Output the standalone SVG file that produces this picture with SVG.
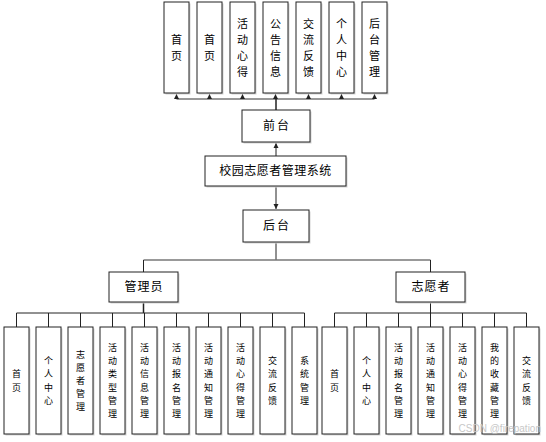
<svg xmlns="http://www.w3.org/2000/svg" width="546" height="442" viewBox="0 0 546 442">
<style>
.b{fill:#fff;stroke:#222;stroke-width:1}
.s{fill:#d4d4d4}
.t{font-family:"Noto Sans CJK SC","Noto Sans",sans-serif;font-size:12px;fill:#000;text-anchor:middle}
.u{font-family:"Noto Sans CJK SC","Noto Sans",sans-serif;font-size:11px;fill:#000;text-anchor:middle}
.v{font-family:"Noto Sans CJK SC","Noto Sans",sans-serif;font-size:9px;fill:#000;text-anchor:middle}
.l{stroke:#222;stroke-width:1;fill:none}
.g{stroke:#777;stroke-width:1.5;fill:none}
</style>
<defs>
<marker id="a" markerWidth="6" markerHeight="6" refX="5" refY="3" orient="auto" markerUnits="userSpaceOnUse"><path d="M0,0.5 L5,3 L0,5.5 Z" fill="#222"/></marker>
</defs>
<g id="connectors">
<path class="g" d="M176.5,99 H374.5"/>
<path class="l" d="M176.5,99 V94" marker-end="url(#a)"/>
<path class="l" d="M209.5,99 V94" marker-end="url(#a)"/>
<path class="l" d="M242.5,99 V94" marker-end="url(#a)"/>
<path class="l" d="M275.5,99 V94" marker-end="url(#a)"/>
<path class="l" d="M308.5,99 V94" marker-end="url(#a)"/>
<path class="l" d="M341.5,99 V94" marker-end="url(#a)"/>
<path class="l" d="M374.5,99 V94" marker-end="url(#a)"/>
<path class="l" d="M276,110 V99" style="stroke-width:1.5"/>
<path class="l" d="M276,156 V143" marker-end="url(#a)"/>
<path class="l" d="M276,186 V209" marker-end="url(#a)"/>
<path class="l" d="M276,242 V260"/>
<path class="g" d="M143.5,260 H430.5"/>
<path class="l" d="M143.5,260 V272"/>
<path class="l" d="M430.5,260 V272"/>
<path class="l" d="M143.5,302 V313" style="stroke-width:1.5"/>
<path class="l" d="M16.5,313 H304.5 M16.5,313 V327 M48.5,313 V327 M80.5,313 V327 M112.5,313 V327 M144.5,313 V327 M176.5,313 V327 M208.5,313 V327 M240.5,313 V327 M272.5,313 V327 M304.5,313 V327"/>
<path class="l" d="M430.5,302 V313"/>
<path class="l" d="M334.5,313 H526.5 M334.5,313 V327 M366.5,313 V327 M398.5,313 V327 M430.5,313 V327 M462.5,313 V327 M494.5,313 V327 M526.5,313 V327"/>
</g>
<g id="top-shouye1"><rect class="s" x="165.5" y="3.5" width="25" height="91"/><rect class="b" x="164" y="2" width="25" height="91"/><text class="u"><tspan x="176.5" y="43.5">首</tspan><tspan x="176.5" y="59.5">页</tspan></text></g>
<g id="top-shouye2"><rect class="s" x="198.5" y="3.5" width="25" height="91"/><rect class="b" x="197" y="2" width="25" height="91"/><text class="u"><tspan x="209.5" y="43.5">首</tspan><tspan x="209.5" y="59.5">页</tspan></text></g>
<g id="top-xinde"><rect class="s" x="231.5" y="3.5" width="25" height="91"/><rect class="b" x="230" y="2" width="25" height="91"/><text class="u"><tspan x="242.5" y="27.5">活</tspan><tspan x="242.5" y="43.5">动</tspan><tspan x="242.5" y="59.5">心</tspan><tspan x="242.5" y="75.5">得</tspan></text></g>
<g id="top-gonggao"><rect class="s" x="264.5" y="3.5" width="25" height="91"/><rect class="b" x="263" y="2" width="25" height="91"/><text class="u"><tspan x="275.5" y="27.5">公</tspan><tspan x="275.5" y="43.5">告</tspan><tspan x="275.5" y="59.5">信</tspan><tspan x="275.5" y="75.5">息</tspan></text></g>
<g id="top-jiaoliu"><rect class="s" x="297.5" y="3.5" width="25" height="91"/><rect class="b" x="296" y="2" width="25" height="91"/><text class="u"><tspan x="308.5" y="27.5">交</tspan><tspan x="308.5" y="43.5">流</tspan><tspan x="308.5" y="59.5">反</tspan><tspan x="308.5" y="75.5">馈</tspan></text></g>
<g id="top-geren"><rect class="s" x="330.5" y="3.5" width="25" height="91"/><rect class="b" x="329" y="2" width="25" height="91"/><text class="u"><tspan x="341.5" y="27.5">个</tspan><tspan x="341.5" y="43.5">人</tspan><tspan x="341.5" y="59.5">中</tspan><tspan x="341.5" y="75.5">心</tspan></text></g>
<g id="top-houtai"><rect class="s" x="363.5" y="3.5" width="25" height="91"/><rect class="b" x="362" y="2" width="25" height="91"/><text class="u"><tspan x="374.5" y="27.5">后</tspan><tspan x="374.5" y="43.5">台</tspan><tspan x="374.5" y="59.5">管</tspan><tspan x="374.5" y="75.5">理</tspan></text></g>
<g id="qiantai"><rect class="s" x="243.5" y="111.5" width="68" height="32"/><rect class="b" x="242" y="110" width="68" height="32"/><text class="t" x="277" y="130.2" letter-spacing="2">前台</text></g>
<g id="system"><rect class="s" x="206.5" y="157.5" width="141" height="30"/><rect class="b" x="205" y="156" width="141" height="30"/><text class="t" x="275.5" y="175.2" letter-spacing="0.5">校园志愿者管理系统</text></g>
<g id="houtai"><rect class="s" x="244.5" y="211.5" width="66" height="32"/><rect class="b" x="243" y="210" width="66" height="32"/><text class="t" x="277" y="230.2" letter-spacing="2">后台</text></g>
<g id="admin"><rect class="s" x="110.5" y="273.5" width="69" height="30"/><rect class="b" x="109" y="272" width="69" height="30"/><text class="t" x="144" y="291.2" letter-spacing="1">管理员</text></g>
<g id="volunteer"><rect class="s" x="397.5" y="273.5" width="69" height="30"/><rect class="b" x="396" y="272" width="69" height="30"/><text class="t" x="431" y="291.2" letter-spacing="1">志愿者</text></g>
<g id="a-shouye"><rect class="s" x="5.5" y="328.5" width="25" height="107"/><rect class="b" x="4" y="327" width="25" height="107"/><text class="v"><tspan x="16.5" y="377.3">首</tspan><tspan x="16.5" y="390.5">页</tspan></text></g>
<g id="a-geren"><rect class="s" x="37.5" y="328.5" width="25" height="107"/><rect class="b" x="36" y="327" width="25" height="107"/><text class="v"><tspan x="48.5" y="364.1">个</tspan><tspan x="48.5" y="377.3">人</tspan><tspan x="48.5" y="390.5">中</tspan><tspan x="48.5" y="403.7">心</tspan></text></g>
<g id="a-zhiyuanzhe"><rect class="s" x="69.5" y="328.5" width="25" height="107"/><rect class="b" x="68" y="327" width="25" height="107"/><text class="v"><tspan x="80.5" y="357.5">志</tspan><tspan x="80.5" y="370.7">愿</tspan><tspan x="80.5" y="383.9">者</tspan><tspan x="80.5" y="397.1">管</tspan><tspan x="80.5" y="410.3">理</tspan></text></g>
<g id="a-leixing"><rect class="s" x="101.5" y="328.5" width="25" height="107"/><rect class="b" x="100" y="327" width="25" height="107"/><text class="v"><tspan x="112.5" y="350.9">活</tspan><tspan x="112.5" y="364.1">动</tspan><tspan x="112.5" y="377.3">类</tspan><tspan x="112.5" y="390.5">型</tspan><tspan x="112.5" y="403.7">管</tspan><tspan x="112.5" y="416.9">理</tspan></text></g>
<g id="a-xinxi"><rect class="s" x="133.5" y="328.5" width="25" height="107"/><rect class="b" x="132" y="327" width="25" height="107"/><text class="v"><tspan x="144.5" y="350.9">活</tspan><tspan x="144.5" y="364.1">动</tspan><tspan x="144.5" y="377.3">信</tspan><tspan x="144.5" y="390.5">息</tspan><tspan x="144.5" y="403.7">管</tspan><tspan x="144.5" y="416.9">理</tspan></text></g>
<g id="a-baoming"><rect class="s" x="165.5" y="328.5" width="25" height="107"/><rect class="b" x="164" y="327" width="25" height="107"/><text class="v"><tspan x="176.5" y="350.9">活</tspan><tspan x="176.5" y="364.1">动</tspan><tspan x="176.5" y="377.3">报</tspan><tspan x="176.5" y="390.5">名</tspan><tspan x="176.5" y="403.7">管</tspan><tspan x="176.5" y="416.9">理</tspan></text></g>
<g id="a-tongzhi"><rect class="s" x="197.5" y="328.5" width="25" height="107"/><rect class="b" x="196" y="327" width="25" height="107"/><text class="v"><tspan x="208.5" y="350.9">活</tspan><tspan x="208.5" y="364.1">动</tspan><tspan x="208.5" y="377.3">通</tspan><tspan x="208.5" y="390.5">知</tspan><tspan x="208.5" y="403.7">管</tspan><tspan x="208.5" y="416.9">理</tspan></text></g>
<g id="a-xinde"><rect class="s" x="229.5" y="328.5" width="25" height="107"/><rect class="b" x="228" y="327" width="25" height="107"/><text class="v"><tspan x="240.5" y="350.9">活</tspan><tspan x="240.5" y="364.1">动</tspan><tspan x="240.5" y="377.3">心</tspan><tspan x="240.5" y="390.5">得</tspan><tspan x="240.5" y="403.7">管</tspan><tspan x="240.5" y="416.9">理</tspan></text></g>
<g id="a-jiaoliu"><rect class="s" x="261.5" y="328.5" width="25" height="107"/><rect class="b" x="260" y="327" width="25" height="107"/><text class="v"><tspan x="272.5" y="364.1">交</tspan><tspan x="272.5" y="377.3">流</tspan><tspan x="272.5" y="390.5">反</tspan><tspan x="272.5" y="403.7">馈</tspan></text></g>
<g id="a-xitong"><rect class="s" x="293.5" y="328.5" width="25" height="107"/><rect class="b" x="292" y="327" width="25" height="107"/><text class="v"><tspan x="304.5" y="364.1">系</tspan><tspan x="304.5" y="377.3">统</tspan><tspan x="304.5" y="390.5">管</tspan><tspan x="304.5" y="403.7">理</tspan></text></g>
<g id="v-shouye"><rect class="s" x="323.5" y="328.5" width="25" height="107"/><rect class="b" x="322" y="327" width="25" height="107"/><text class="v"><tspan x="334.5" y="377.3">首</tspan><tspan x="334.5" y="390.5">页</tspan></text></g>
<g id="v-geren"><rect class="s" x="355.5" y="328.5" width="25" height="107"/><rect class="b" x="354" y="327" width="25" height="107"/><text class="v"><tspan x="366.5" y="364.1">个</tspan><tspan x="366.5" y="377.3">人</tspan><tspan x="366.5" y="390.5">中</tspan><tspan x="366.5" y="403.7">心</tspan></text></g>
<g id="v-baoming"><rect class="s" x="387.5" y="328.5" width="25" height="107"/><rect class="b" x="386" y="327" width="25" height="107"/><text class="v"><tspan x="398.5" y="350.9">活</tspan><tspan x="398.5" y="364.1">动</tspan><tspan x="398.5" y="377.3">报</tspan><tspan x="398.5" y="390.5">名</tspan><tspan x="398.5" y="403.7">管</tspan><tspan x="398.5" y="416.9">理</tspan></text></g>
<g id="v-tongzhi"><rect class="s" x="419.5" y="328.5" width="25" height="107"/><rect class="b" x="418" y="327" width="25" height="107"/><text class="v"><tspan x="430.5" y="350.9">活</tspan><tspan x="430.5" y="364.1">动</tspan><tspan x="430.5" y="377.3">通</tspan><tspan x="430.5" y="390.5">知</tspan><tspan x="430.5" y="403.7">管</tspan><tspan x="430.5" y="416.9">理</tspan></text></g>
<g id="v-xinde"><rect class="s" x="451.5" y="328.5" width="25" height="107"/><rect class="b" x="450" y="327" width="25" height="107"/><text class="v"><tspan x="462.5" y="350.9">活</tspan><tspan x="462.5" y="364.1">动</tspan><tspan x="462.5" y="377.3">心</tspan><tspan x="462.5" y="390.5">得</tspan><tspan x="462.5" y="403.7">管</tspan><tspan x="462.5" y="416.9">理</tspan></text></g>
<g id="v-shoucang"><rect class="s" x="483.5" y="328.5" width="25" height="107"/><rect class="b" x="482" y="327" width="25" height="107"/><text class="v"><tspan x="494.5" y="350.9">我</tspan><tspan x="494.5" y="364.1">的</tspan><tspan x="494.5" y="377.3">收</tspan><tspan x="494.5" y="390.5">藏</tspan><tspan x="494.5" y="403.7">管</tspan><tspan x="494.5" y="416.9">理</tspan></text></g>
<g id="v-jiaoliu"><rect class="s" x="515.5" y="328.5" width="25" height="107"/><rect class="b" x="514" y="327" width="25" height="107"/><text class="v"><tspan x="526.5" y="364.1">交</tspan><tspan x="526.5" y="377.3">流</tspan><tspan x="526.5" y="390.5">反</tspan><tspan x="526.5" y="403.7">馈</tspan></text></g>
<text x="541" y="432" font-family="Liberation Sans, sans-serif" font-size="10" fill="#c8c8c8" text-anchor="end">CSDN @firepation</text>
</svg>
